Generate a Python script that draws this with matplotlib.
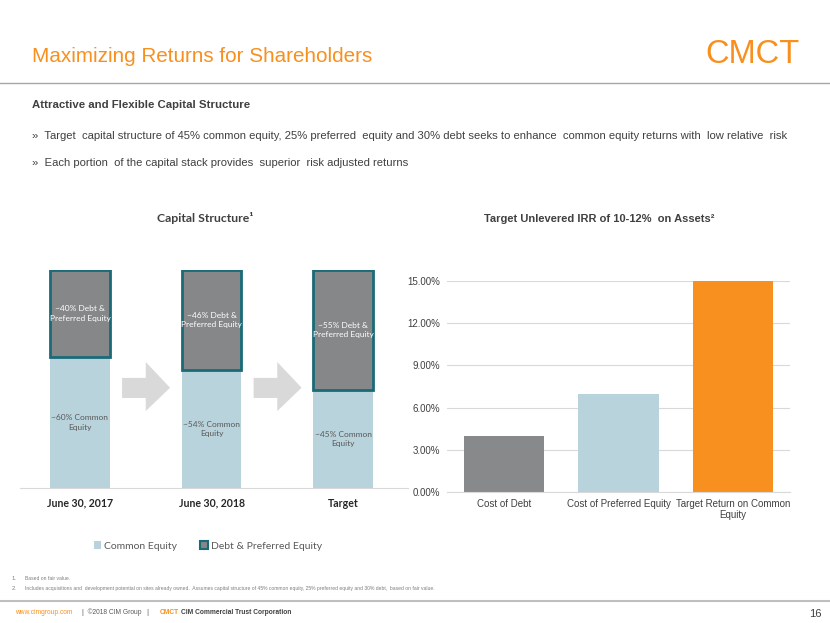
import matplotlib
matplotlib.use("Agg")
import matplotlib.pyplot as plt
from matplotlib.patches import Patch, Polygon
from matplotlib.lines import Line2D
from matplotlib.ticker import FuncFormatter

# data
periods = ["June 30, 2017", "June 30, 2018", "Target"]
common_pct = [60, 54, 45]
debt_pct = [40, 46, 55]
common_labels = ["~60% Common\nEquity", "~54% Common\nEquity", "~45% Common\nEquity"]
debt_labels = ["~40% Debt &\nPreferred Equity", "~46% Debt &\nPreferred Equity",
               "~55% Debt &\nPreferred Equity"]

irr_labels = ["Cost of Debt", "Cost of Preferred Equity", "Target Return on Common\nEquity"]
irr_values = [4.0, 7.0, 15.0]
irr_ticks = [0, 3, 6, 9, 12, 15]

bullets = [
    "Target  capital structure of 45% common equity, 25% preferred  equity and 30% debt seeks to enhance  common equity returns with  low relative  risk",
    "Each portion  of the capital stack provides  superior  risk adjusted returns",
]
footnotes = [
    ("1.", "Based on fair value."),
    ("2.", "Includes acquisitions and  development potential on sites already owned.  Assumes capital structure of 45% common equity, 25% preferred equity and 30% debt,  based on fair value."),
]

ORANGE = "#F7901E"
LIGHTBLUE = "#B8D3DC"
GRAY = "#87898B"
TEAL = "#1A6A78"
TXT = "#404040"

W, H = 830, 623
fig = plt.figure(figsize=(W / 100, H / 100), dpi=100)
fig.patch.set_facecolor("white")

sans = ["Liberation Sans", "DejaVu Sans"]
calib = ["Lato", "DejaVu Sans"]


def px(x, y):
    # pixel coords (top-left origin) -> figure fraction
    return x / W, 1 - y / H


def ftext(x, y, s, **kw):
    fx, fy = px(x, y)
    fig.text(fx, fy, s, **kw)


def hline(y, x0=0, x1=W, **kw):
    fig.add_artist(Line2D([x0 / W, x1 / W], [1 - y / H, 1 - y / H],
                          transform=fig.transFigure, **kw))


# header
ftext(32, 62, "Maximizing Returns for Shareholders", family=sans, color=ORANGE,
      fontsize=14.9, va="baseline")
ftext(800, 63, "CMCT", family=sans, color=ORANGE, fontsize=23.5, ha="right", va="baseline")
hline(83, color="#A6A6A6", lw=1)

ftext(32, 108, "Attractive and Flexible Capital Structure", family=sans, color=TXT,
      fontsize=8.2, weight="bold", va="baseline")
for i, b in enumerate(bullets):
    ftext(32, 139 + i * 27, "»  " + b, family=sans, color=TXT, fontsize=8.1, va="baseline")

# left chart: capital structure
axl = fig.add_axes([20 / W, (H - 488) / H, 388 / W, 218 / H])
x = range(len(periods))
axl.bar(x, common_pct, width=0.456, color=LIGHTBLUE, zorder=2)
axl.bar(x, debt_pct, bottom=common_pct, width=0.456, color="#858789",
        edgecolor=TEAL, linewidth=2, zorder=3)
for i in x:
    axl.text(i, common_pct[i] / 2, common_labels[i], ha="center", va="center",
             fontsize=6, color="#595959", family=calib, linespacing=1.4, zorder=4)
    axl.text(i, common_pct[i] + debt_pct[i] / 2, debt_labels[i], ha="center",
             va="center", fontsize=6, color="white", family=calib, linespacing=1.4, zorder=4)

# arrows between the bars
for a in [0.5, 1.5]:
    x0, xm, x1 = a - 0.18, a - 0.0, a + 0.185
    pts = [(x0, 41.3), (xm, 41.3), (xm, 35.3), (x1, 46.0), (xm, 57.8), (xm, 50.5), (x0, 50.5)]
    axl.add_patch(Polygon(pts, closed=True, facecolor="#D9D9D9", edgecolor="none", zorder=1))

axl.set_xlim(-0.456, 2.494)
axl.set_ylim(0, 100)
axl.set_yticks([])
axl.set_xticks(list(x))
axl.set_xticklabels(periods, family=calib, weight="bold", fontsize=7.6, color="#262626")
axl.tick_params(axis="x", length=0, pad=7)
for s in ["top", "left", "right"]:
    axl.spines[s].set_visible(False)
axl.spines["bottom"].set_color("#D9D9D9")
axl.set_facecolor("none")

ftext(205, 222, "Capital Structure¹", family=calib, weight="bold", fontsize=8.8,
      color="#404040", ha="center")

handles = [Patch(facecolor=LIGHTBLUE, edgecolor="none", label="Common Equity"),
           Patch(facecolor="#858789", edgecolor=TEAL, linewidth=1.5,
                 label="Debt & Preferred Equity")]
lx, ly = px(208, 546)
fig.legend(handles=handles, loc="center", bbox_to_anchor=(lx, ly), ncol=2, frameon=False,
           prop={"family": calib, "size": 7.5}, labelcolor="#595959",
           handlelength=0.7, handleheight=0.7, handletextpad=0.3, columnspacing=2.2)

# right chart: target IRR
axr = fig.add_axes([447 / W, (H - 492) / H, 343 / W, 211 / H])
axr.bar(range(len(irr_values)), irr_values, width=0.7,
        color=[GRAY, LIGHTBLUE, ORANGE], zorder=2)
axr.set_xlim(-0.5, 2.5)
axr.set_ylim(0, 15)
axr.set_yticks(irr_ticks)
axr.yaxis.set_major_formatter(FuncFormatter(lambda v, p: f"{v:.2f}%"))
axr.grid(axis="y", color="#D9D9D9", lw=0.8, zorder=0)
axr.set_xticks(range(len(irr_values)))
axr.set_xticklabels(irr_labels, fontsize=6.8, color=TXT, family=sans, linespacing=1.1)
axr.tick_params(axis="both", length=0, labelsize=7, colors=TXT)
axr.tick_params(axis="x", pad=5)
axr.tick_params(axis="y", pad=5)
for lab in axr.get_yticklabels():
    lab.set_family(sans)
for s in ["top", "left", "right"]:
    axr.spines[s].set_visible(False)
axr.spines["bottom"].set_color("#D9D9D9")
axr.set_axisbelow(True)

ftext(599, 222, "Target Unlevered IRR of 10-12%  on Assets²", family=sans, weight="bold",
      fontsize=8.0, color=TXT, ha="center")

# footnotes + footer
for i, (n, t) in enumerate(footnotes):
    ftext(12, 580 + i * 10, n, family=sans, fontsize=4.2, color="#7F7F7F")
    ftext(25, 580 + i * 10, t, family=sans, fontsize=3.65, color="#7F7F7F")
hline(601, color="#BFBFBF", lw=1.5)
ftext(15, 614, "www.cimgroup.com", family=sans, fontsize=4.8, color=ORANGE)
ftext(82, 614, "|  ©2018 CIM Group   |", family=sans, fontsize=4.8, color="#595959")
ftext(160, 614, "CMCT", family=sans, fontsize=4.8, color=ORANGE, weight="bold")
ftext(181, 614, "CIM Commercial Trust Corporation", family=sans, fontsize=4.8, color="#404040",
      weight="bold")
ftext(822, 617, "16", family=sans, fontsize=8, color="#404040", ha="right")

fig.savefig("out.png", dpi=100)
